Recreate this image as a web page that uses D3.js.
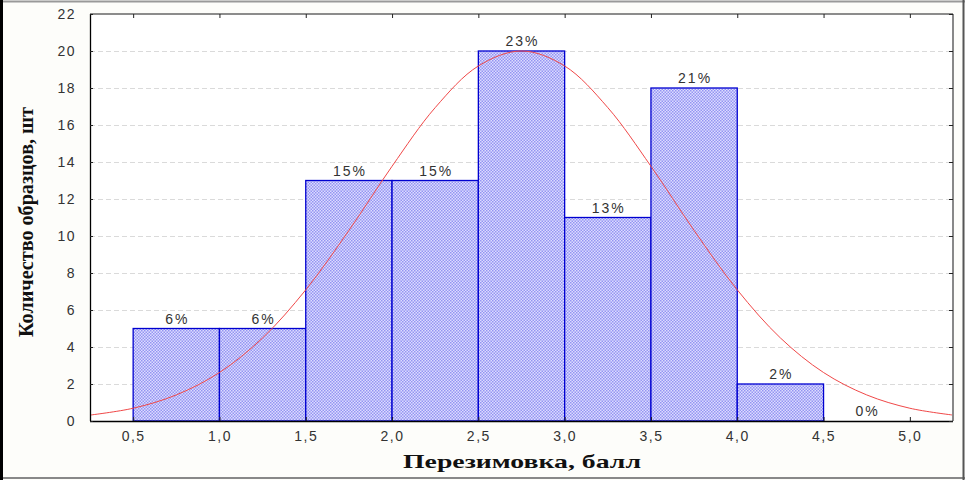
<!DOCTYPE html>
<html><head><meta charset="utf-8">
<script src="https://cdn.jsdelivr.net/npm/d3@7"></script>
<style>body{margin:0;background:#fff}svg{display:block}</style>
</head><body>
<script>
const binStarts = [0.5,1.0,1.5,2.0,2.5,3.0,3.5,4.0,4.5];
const counts    = [5,5,13,13,20,11,18,2,0];
const pctLabels = ["6%","6%","15%","15%","23%","13%","21%","2%","0%"];
const xTicks = [0.5,1.0,1.5,2.0,2.5,3.0,3.5,4.0,4.5,5.0];
const yTicks = [0,2,4,6,8,10,12,14,16,18,20,22];
const curveX = [0.25,0.5,0.75,1.0,1.25,1.5,1.75,2.0,2.25,2.5,2.75,3.0,3.25,3.5,3.75,4.0,4.25,4.5,4.75,5.0,5.25];
const curveY = [0.32,0.69,1.41,2.62,4.49,7.09,10.3,13.77,16.94,19.19,20.0,19.19,16.94,13.77,10.3,7.09,4.49,2.62,1.41,0.69,0.32];
const binWidth = 0.5;

const W=965,H=480;
const m={l:90,t:14,r:953,b:421};
const svg=d3.select("body").append("svg").attr("width",W).attr("height",H);
svg.append("rect").attr("width",W).attr("height",H).attr("fill","#fdfdfa");
// outer frame
svg.append("line").attr("x1",0).attr("x2",W).attr("y1",1.5).attr("y2",1.5).attr("stroke","#999").attr("stroke-width",2);
svg.append("line").attr("x1",0).attr("x2",W).attr("y1",478).attr("y2",478).attr("stroke","#888").attr("stroke-width",2);
svg.append("line").attr("x1",1.5).attr("x2",1.5).attr("y1",0).attr("y2",H).attr("stroke","#000").attr("stroke-width",3);
svg.append("line").attr("x1",963.5).attr("x2",963.5).attr("y1",0).attr("y2",H).attr("stroke","#555").attr("stroke-width",2);

const defs=svg.append("defs");
const pat=defs.append("pattern").attr("id","hatch").attr("patternUnits","userSpaceOnUse").attr("width",3).attr("height",3);
pat.append("rect").attr("width",3).attr("height",3).attr("fill","#dcdcff");
pat.append("rect").attr("x",0).attr("y",0).attr("width",1.5).attr("height",1.5).attr("fill","#9494f2");
pat.append("rect").attr("x",1.5).attr("y",1.5).attr("width",1.5).attr("height",1.5).attr("fill","#9494f2");

const x=d3.scaleLinear().domain([0.25,5.25]).range([m.l,m.r]);
const y=d3.scaleLinear().domain([0,22]).range([m.b,m.t]);

svg.append("rect").attr("x",m.l).attr("y",m.t).attr("width",m.r-m.l).attr("height",m.b-m.t).attr("fill","#fff");

// grid
svg.append("g").selectAll("line").data(yTicks.slice(1,-1)).join("line")
  .attr("x1",m.l).attr("x2",m.r).attr("y1",d=>y(d)+0.5).attr("y2",d=>y(d)+0.5)
  .attr("stroke","#dadada").attr("stroke-dasharray","5,3");

// bars
svg.append("g").selectAll("rect").data(binStarts.map((s,i)=>({s,c:counts[i]})).filter(d=>d.c>0)).join("rect")
  .attr("x",d=>x(d.s)).attr("y",d=>y(d.c)).attr("width",d=>x(d.s+binWidth)-x(d.s)).attr("height",d=>y(0)-y(d.c))
  .attr("fill","url(#hatch)").attr("stroke","#0000d0").attr("stroke-width",1.3);

// curve
const line=d3.line().x(d=>x(d[0])).y(d=>y(d[1])).curve(d3.curveCatmullRom);
svg.append("path").datum(curveX.map((v,i)=>[v,curveY[i]])).attr("d",line)
  .attr("fill","none").attr("stroke","#f04848").attr("stroke-width",1);

// pct labels
svg.append("g").selectAll("text").data(binStarts.map((s,i)=>({s,c:counts[i],t:pctLabels[i]}))).join("text")
  .attr("x",d=>x(d.s+binWidth/2)+1).attr("y",d=>y(d.c)-5)
  .attr("text-anchor","middle").attr("font-family","Liberation Sans, Arial, sans-serif").attr("font-size",14)
  .attr("letter-spacing",2).attr("fill","#333").text(d=>d.t);

// frame
svg.append("line").attr("x1",m.l).attr("x2",m.r).attr("y1",m.t).attr("y2",m.t).attr("stroke","#666").attr("stroke-width",1.5);
svg.append("line").attr("x1",m.r).attr("x2",m.r).attr("y1",m.t).attr("y2",m.b).attr("stroke","#888").attr("stroke-width",2);
svg.append("line").attr("x1",m.l).attr("x2",m.r).attr("y1",m.b+0.5).attr("y2",m.b+0.5).attr("stroke","#000").attr("stroke-width",1.3);
svg.append("line").attr("x1",m.l+0.5).attr("x2",m.l+0.5).attr("y1",m.t).attr("y2",m.b).attr("stroke","#000").attr("stroke-width",1.3);

// axes
const fmt=d=>d.toFixed(1).replace(".",",");
const xa=svg.append("g").attr("transform",`translate(0,${m.b})`).call(d3.axisBottom(x).tickValues(xTicks).tickSize(-4).tickPadding(10).tickFormat(fmt));
const xt=svg.append("g").attr("transform",`translate(0,${m.t})`).call(d3.axisTop(x).tickValues(xTicks).tickSize(-4).tickFormat(""));
const ya=svg.append("g").attr("transform",`translate(${m.l},0)`).call(d3.axisLeft(y).tickValues(yTicks).tickSize(-3).tickPadding(14).tickFormat(d3.format("d")));
const yr=svg.append("g").attr("transform",`translate(${m.r},0)`).call(d3.axisRight(y).tickValues(yTicks).tickSize(-4).tickFormat(""));
[xa,xt,ya,yr].forEach(g=>{g.select(".domain").remove();g.selectAll(".tick line").attr("stroke","#222");});
[xa,ya].forEach(g=>g.selectAll("text").attr("font-family","Liberation Sans, Arial, sans-serif").attr("font-size",14).attr("letter-spacing",1.5).attr("fill","#333"));

// titles
svg.append("text").attr("x",522).attr("y",468).attr("text-anchor","middle")
  .attr("font-family","Liberation Serif, Times New Roman, serif").attr("font-weight","bold").attr("font-size",19).attr("fill","#111")
  .attr("textLength",238).attr("lengthAdjust","spacingAndGlyphs").text("Перезимовка, балл");
svg.append("text").attr("transform","translate(33,222) rotate(-90)").attr("text-anchor","middle")
  .attr("font-family","Liberation Serif, Times New Roman, serif").attr("font-weight","bold").attr("font-size",22).attr("fill","#111")
  .attr("textLength",230).attr("lengthAdjust","spacingAndGlyphs").text("Количество образцов, шт");
</script>
</body></html>
